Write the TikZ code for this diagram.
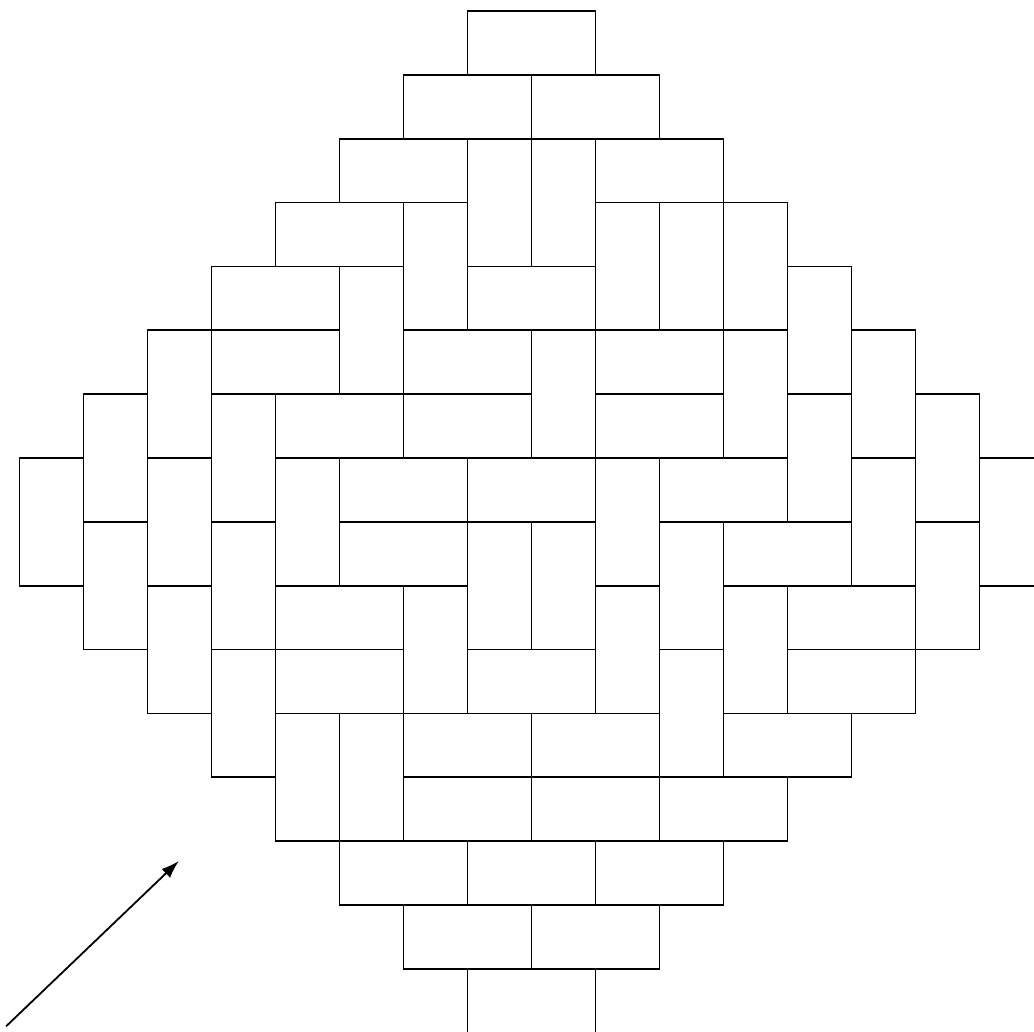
\documentclass[tikz,border=0pt]{standalone}
\usepackage{tikz}
\usetikzlibrary{arrows.meta}

\begin{document}
\begin{tikzpicture}[x=1cm, y=-0.9977cm, tile/.style={line width=0.8pt}]
  % frame (the picture is cut at the right and at the bottom)
  \useasboundingbox (-0.305,-0.172) rectangle (15.85,15.975);
  \clip (-0.305,-0.172) rectangle (15.85,15.975);
  % horizontal dominoes: column/row of the left cell
  \foreach \c/\r in {7/0, 6/1, 8/1, 5/2, 9/2, 4/3, 3/4, 7/4, 3/5, 6/5, 9/5,
                     4/6, 6/6, 9/6, 5/7, 7/7, 10/7, 5/8, 11/8, 4/9, 12/9,
                     4/10, 7/10, 12/10, 6/11, 8/11, 11/11, 6/12, 8/12, 10/12,
                     5/13, 7/13, 9/13, 6/14, 8/14, 7/15}
    \draw[tile] (\c,\r) rectangle ++(2,1);
  % vertical dominoes: column/row of the top cell
  \foreach \c/\r in {7/2, 8/2, 6/3, 9/3, 10/3, 11/3, 5/4, 12/4,
                     2/5, 8/5, 11/5, 13/5, 1/6, 3/6, 12/6, 14/6,
                     0/7, 2/7, 4/7, 9/7, 13/7, 15/7, 1/8, 3/8, 7/8, 8/8, 10/8, 14/8,
                     2/9, 6/9, 9/9, 11/9, 3/10, 10/10, 4/11, 5/11}
    \draw[tile] (\c,\r) rectangle ++(1,2);
  % arrow in the lower left corner
  \coordinate (tail) at (-0.21,15.9);
  \coordinate (tip) at (2.49,13.31);
  \draw[tile,-{Latex[length=2.8mm,width=1.9mm]}] (tail) -- (tip);
\end{tikzpicture}
\end{document}
